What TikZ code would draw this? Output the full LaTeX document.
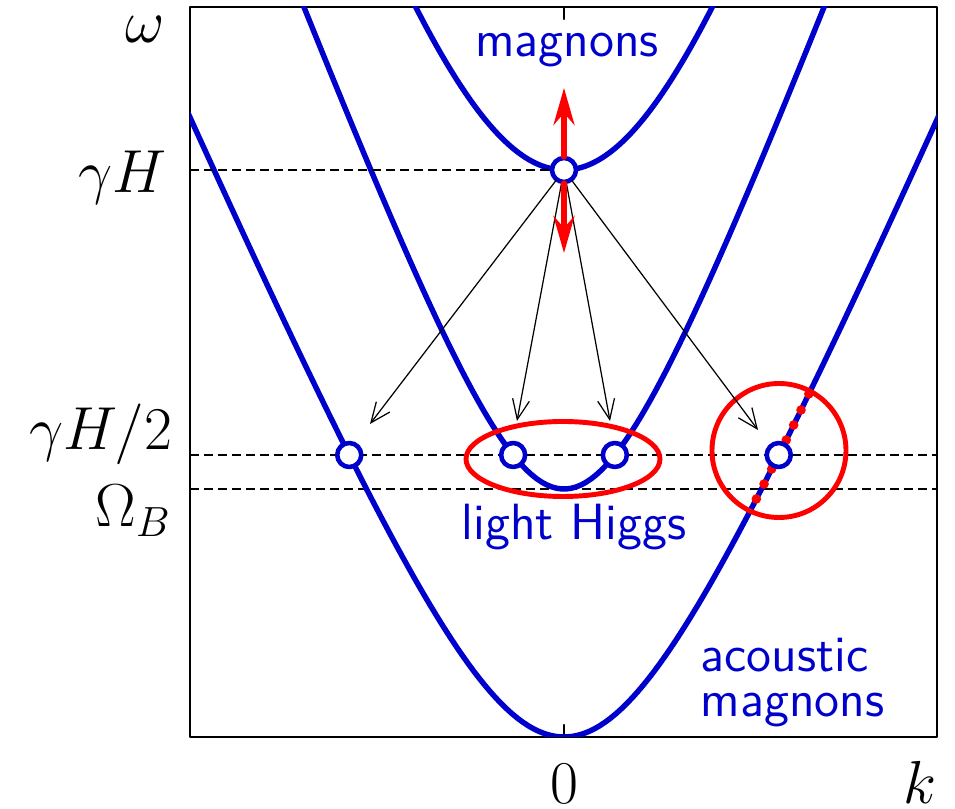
\documentclass[tikz,border=0pt]{standalone}
\usepackage{amsmath,amssymb}
\usepackage{xcolor}
\usepackage{tikz}
\usetikzlibrary{arrows.meta,positioning,calc}
\definecolor{plotblue}{HTML}{0000CC}
\definecolor{markred}{HTML}{FF0000}
\tikzset{
    every picture/.style={line cap=round,line join=round},
    axisframe/.style={draw=black,line width=0.6pt},
    levelline/.style={draw=black,line width=0.4pt,line cap=butt,
      dash pattern=on 0.9mm off 0.5mm},
    branch/.style={draw=plotblue,line width=1.55pt},
    modepoint/.style={draw=plotblue,circle,fill=white,line width=1.3pt,
      minimum size=2.4mm,inner sep=0pt,outer sep=0.3pt},
    decayarrow/.style={-{Straight Barb[length=2mm,width=1.7mm]},draw=black,
      line width=0.35pt},
    spinarrow/.style={-{Stealth[length=3.7mm,width=2.1mm]},draw=markred,
      line width=1.5pt},
    redring/.style={draw=markred,line width=1.4pt},
    axislabel/.style={font=\fontsize{18}{20}\selectfont,inner sep=0pt},
    bandlabel/.style={font=\fontsize{14.5}{13}\selectfont\sffamily,text=plotblue,
      inner sep=0pt,align=left}
}

\begin{document}
\begin{tikzpicture}[x=1cm,y=-1cm]
    \useasboundingbox (0,0) rectangle (9.55,8.09);
    % level lines
    \coordinate (gHleft) at (1.90,1.70);
    \coordinate (halfleft) at (1.90,4.55);
    \coordinate (halfright) at (9.37,4.55);
    \coordinate (bleft) at (1.90,4.89);
    \coordinate (bright) at (9.37,4.89);
    \draw[levelline] (halfleft) -- (halfright);
    \draw[levelline] (bleft) -- (bright);
    % frame and ticks
    \draw[axisframe] (1.90,0.07) rectangle (9.37,7.37);
    \draw[axisframe] (5.64,0.07) -- (5.64,0.19) (5.64,7.37) -- (5.64,7.25);
    % dispersion branches
    \begin{scope}
        \clip (1.90,0.07) rectangle (9.37,7.37);
        \draw[branch] plot[domain=-3.8:3.8,samples=140] ({5.64+\x},{7.37-2.33*(sqrt(\x*\x+1.69)-1.3)});
        \draw[branch] plot[domain=-2.7:2.7,samples=110] ({5.64+\x},{7.37-sqrt(6.1504+6.9696*\x*\x)});
        \draw[branch] plot[domain=-1.6:1.6,samples=80] ({5.64+\x},{7.37-sqrt(32.1489+9.61*\x*\x)});
    \end{scope}
    % resonances
    \draw[redring] (5.63,4.59) ellipse [x radius=0.97,y radius=0.375];
    \draw[redring] (7.79,4.505) circle (0.67);
    \foreach \d in {2.38,2.53,2.68,2.97,3.12,3.27,3.43}
        \fill[markred] ({5.64+sqrt((\d/2.33+1.3)^2-1.69)},{7.37-\d}) circle (0.048);
    % modes
    \node[modepoint] (top) at (5.64,1.70) {};
    \node[modepoint] (acL) at (3.4925,4.55) {};
    \node[modepoint] (hgL) at (5.1315,4.55) {};
    \node[modepoint] (hgR) at (6.1485,4.55) {};
    \node[modepoint] (acR) at (7.7875,4.55) {};
    \draw[levelline] (gHleft) -- (top);
    % decay channels
    \coordinate (toA) at (3.70,4.24);
    \coordinate (toB) at (5.17,4.21);
    \coordinate (toC) at (6.10,4.21);
    \coordinate (toD) at (7.58,4.30);
    \foreach \t in {toA,toB,toC,toD}
        \draw[decayarrow] (top) -- (\t);
    \coordinate (spinup) at (5.64,0.88);
    \coordinate (spindown) at (5.64,2.53);
    \draw[spinarrow] (top) -- (spinup);
    \draw[spinarrow] (top) -- (spindown);
    % labels
    \node[axislabel,anchor=base east] (omega) at (1.65,0.43) {$\omega$};
    \node[axislabel,anchor=base east] (lvlH) at (1.67,1.93) {$\gamma H$};
    \node[axislabel,anchor=base east] (lvlhalf) at (1.73,4.50) {$\gamma H/2$};
    \node[axislabel,anchor=base east] (lvlB) at (1.72,5.27) {$\Omega_B$};
    \node[axislabel,anchor=base] (kzero) at (5.64,8.04) {$0$};
    \node[axislabel,anchor=base east] (kaxis) at (9.37,8.04) {$k$};
    \node[bandlabel,anchor=base] (magnons) at (5.67,0.57) {magnons};
    \node[bandlabel,anchor=base] (higgs) at (5.74,5.40) {light Higgs};
    \node[bandlabel,anchor=north west] (acoustic) at (7.00,6.37) {acoustic\\magnons};
\end{tikzpicture}
\end{document}
